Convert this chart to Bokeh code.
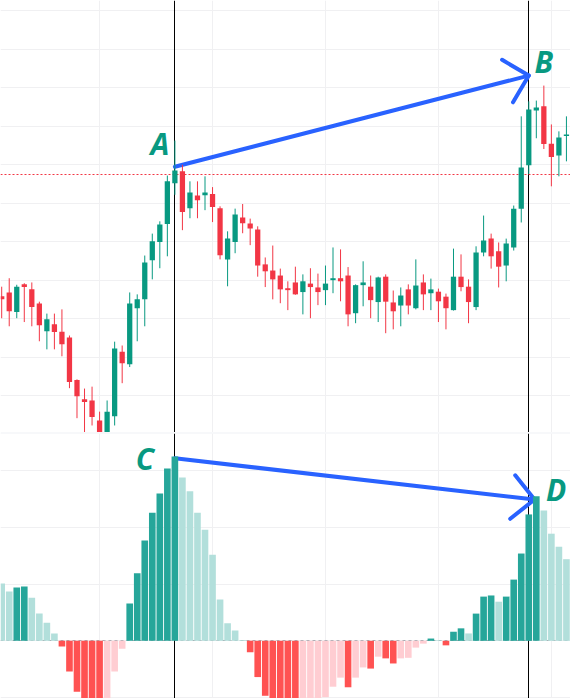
import math
from bokeh.plotting import figure
from bokeh.layouts import column
from bokeh.models import FixedTicker, Range1d, ColumnDataSource
from bokeh.core.properties import value
from bokeh.embed import file_html
from bokeh.resources import INLINE

# ---------------- data ----------------
opens = [38.58, 38.68, 38.17, 38.89, 38.76, 38.39, 37.67, 37.85, 37.66, 37.51,
         36.40, 35.90, 35.87, 35.35, 35.02, 35.46, 37.14, 36.81, 38.27, 38.50,
         39.52, 39.99, 40.46, 41.52, 41.83, 40.87, 41.20, 41.21, 41.24, 40.87,
         39.54, 39.99, 40.63, 40.47, 40.32, 39.41, 39.25, 39.12, 38.79, 38.94,
         38.69, 38.91, 38.81, 38.74, 39.00, 39.05, 39.12, 38.14, 38.87, 38.83,
         38.43, 39.09, 38.42, 38.34, 38.76, 38.27, 38.94, 38.66, 38.70, 38.57,
         38.22, 39.09, 38.83, 38.30, 39.72, 40.08, 39.75, 39.38, 39.85, 40.86,
         41.99, 43.41, 43.52, 42.55, 42.24, 42.75]
highs = [38.83, 39.05, 38.88, 38.92, 38.94, 38.44, 38.13, 38.13, 38.24, 37.56,
         36.42, 36.18, 36.23, 35.58, 35.87, 37.40, 37.30, 38.68, 38.63, 39.64,
         40.21, 40.53, 41.72, 42.63, 42.00, 41.57, 41.57, 41.70, 41.42, 40.92,
         40.27, 40.86, 40.98, 40.60, 40.40, 39.59, 39.90, 39.30, 38.97, 39.35,
         39.15, 39.31, 39.17, 39.38, 39.85, 39.80, 39.34, 38.89, 39.49, 39.12,
         39.09, 39.15, 38.73, 38.81, 38.89, 39.54, 39.15, 39.04, 38.78, 38.65,
         39.82, 39.67, 39.02, 39.88, 40.68, 40.21, 39.98, 40.08, 40.94, 43.26,
         43.65, 43.67, 44.06, 43.05, 42.87, 43.26]
lows = [38.01, 37.80, 38.01, 37.91, 37.80, 37.41, 37.20, 37.20, 37.02, 36.19,
        35.41, 35.05, 35.22, 34.88, 34.93, 35.22, 36.32, 36.74, 37.41, 37.80,
        39.02, 39.31, 39.62, 41.22, 40.30, 40.61, 40.61, 40.82, 40.51, 39.54,
        38.84, 39.70, 40.22, 39.91, 39.09, 38.82, 38.50, 38.40, 38.22, 38.62,
        38.11, 38.01, 38.35, 38.35, 38.66, 38.45, 37.80, 37.88, 38.32, 38.01,
        37.91, 37.62, 37.72, 37.80, 38.11, 38.24, 38.22, 38.22, 37.91, 37.72,
        38.21, 38.71, 37.88, 38.22, 39.62, 39.30, 38.81, 38.97, 39.77, 40.50,
        41.76, 42.69, 42.41, 41.44, 41.70, 42.09]
closes = [38.50, 38.19, 38.83, 38.82, 38.30, 37.83, 37.98, 37.65, 37.33, 36.35,
          35.98, 35.83, 35.44, 34.99, 35.58, 37.22, 36.84, 38.39, 38.50, 39.46,
          40.01, 40.45, 41.57, 41.85, 40.77, 41.28, 41.08, 41.28, 40.90, 39.65,
          40.08, 40.71, 40.48, 40.34, 39.38, 39.23, 39.02, 38.76, 38.74, 38.63,
          38.97, 38.82, 38.69, 38.91, 39.05, 38.97, 38.11, 38.87, 38.94, 38.48,
          39.07, 38.44, 38.19, 38.60, 38.34, 38.86, 38.63, 38.76, 38.45, 38.27,
          39.09, 38.82, 38.43, 39.72, 40.03, 39.62, 39.35, 39.95, 40.86, 41.93,
          43.44, 43.49, 42.54, 42.20, 42.71, 42.79]
hist = [0.101, 0.087, 0.094, 0.096, 0.076, 0.048, 0.032, 0.013, -0.010, -0.054,
        -0.090, -0.112, -0.125, -0.132, -0.108, -0.054, -0.014, 0.066, 0.119, 0.177,
        0.226, 0.260, 0.304, 0.325, 0.288, 0.264, 0.226, 0.196, 0.152, 0.073,
        0.031, 0.018, 0.0015, -0.020, -0.064, -0.097, -0.108, -0.118, -0.126, -0.131,
        -0.124, -0.115, -0.106, -0.0995, -0.081, -0.065, -0.082, -0.065, -0.047, -0.049,
        -0.028, -0.031, -0.040, -0.031, -0.030, -0.012, -0.005, 0.004, 0.001, -0.008,
        0.016, 0.022, 0.013, 0.048, 0.078, 0.080, 0.069, 0.078, 0.108, 0.154,
        0.223, 0.255, 0.230, 0.189, 0.166, 0.144]

price_ticks = [35, 36, 37, 38, 39, 40, 41, 42, 43, 44, 45, 46]
hist_ticks = [-0.1, 0.0, 0.1, 0.2, 0.3]
time_ticks = [13, 28, 43, 58, 73]
marked_bars = [23, 70]
last_price = 41.735

arrow_ab_x = [23.0, 70.0]
arrow_ab_y = [41.95, 44.32]
arrow_cd_x = [23.0, 70.76]
arrow_cd_y = [0.322, 0.2493]

top_labels = ["A", "B"]
top_label_x = [19.76, 70.77]
top_label_y = [42.544, 44.684]
bot_labels = ["C", "D"]
bot_label_x = [17.8, 72.3]
bot_label_y = [0.3217, 0.2676]

# ---------------- view ----------------
W = 570
H_TOP = 432
H_BOT = 266
X_VIEW = (-0.159, 75.54)
TOP_VIEW = (35.0375, 46.273)
BOT_VIEW = (-0.1018, 0.3658)

UP = "#089981"
DOWN = "#F23645"
GRID = "#f0f0f2"
BLUE = "#2962FF"

x_range = Range1d(*X_VIEW)


def make_fig(height, yview, border_top=0):
    p = figure(width=W, height=height, x_range=x_range, y_range=Range1d(*yview),
               output_backend="svg", toolbar_location=None,
               x_axis_location=None, y_axis_location=None,
               min_border=0, min_border_top=border_top,
               outline_line_color=None, background_fill_color="white",
               border_fill_color="#e0e3eb" if border_top else "white")
    p.xgrid.ticker = FixedTicker(ticks=time_ticks)
    p.xgrid.grid_line_color = GRID
    p.ygrid.grid_line_color = GRID
    p.vspan(x=marked_bars, line_color="black", line_width=1)
    return p


def head(xs, ys, sx, sy, arm=31.0, spread=45.0):
    dx = (xs[0] - xs[1]) * sx
    dy = (ys[0] - ys[1]) * sy
    n = math.hypot(dx, dy)
    ux, uy = dx / n, dy / n
    hx, hy = [], []
    for sgn in (1, -1):
        a = math.radians(spread) * sgn
        rx = ux * math.cos(a) - uy * math.sin(a)
        ry = ux * math.sin(a) + uy * math.cos(a)
        hx.append(xs[1] + rx * arm / sx)
        hy.append(ys[1] + ry * arm / sy)
    return [hx[0], xs[1], hx[1]], [hy[0], ys[1], hy[1]]


sx = W / (X_VIEW[1] - X_VIEW[0])
LABEL_STYLE = dict(text_font=value("Open Sans"), text_font_size="30px",
                   text_font_style="bold italic", text_color=UP,
                   text_align="left", text_baseline="alphabetic")

# ---------------- price pane ----------------
p1 = make_fig(H_TOP, TOP_VIEW)
p1.ygrid.ticker = FixedTicker(ticks=price_ticks)
p1.hspan(y=[last_price], line_color=DOWN, line_width=1, line_dash="2 2")

sy1 = H_TOP / (TOP_VIEW[1] - TOP_VIEW[0])
p1.line(arrow_ab_x, arrow_ab_y, line_color=BLUE, line_width=4, line_cap="round")
hx, hy = head(arrow_ab_x, arrow_ab_y, sx, sy1)
p1.line(hx, hy, line_color=BLUE, line_width=4, line_cap="round", line_join="round")

idx = list(range(len(opens)))
ccol = [UP if c >= o else DOWN for o, c in zip(opens, closes)]
src = ColumnDataSource(dict(
    x=idx, o=opens, h=highs, l=lows, c=closes, col=ccol,
    top=[max(o, c) for o, c in zip(opens, closes)],
    bot=[min(o, c) for o, c in zip(opens, closes)],
))
p1.segment(x0="x", y0="l", x1="x", y1="h", line_color="col", line_width=1, source=src)
p1.vbar(x="x", width=0.7, top="top", bottom="bot", fill_color="col", line_color=None, source=src)

p1.text(x=top_label_x, y=top_label_y, text=top_labels, **LABEL_STYLE)

# ---------------- histogram pane ----------------
p2 = make_fig(H_BOT, BOT_VIEW, border_top=1)
p2.ygrid.ticker = FixedTicker(ticks=hist_ticks)
p2.hspan(y=[0], line_color="#787B86", line_alpha=0.6, line_width=1, line_dash="3 3")

sy2 = (H_BOT - 1) / (BOT_VIEW[1] - BOT_VIEW[0])
p2.line(arrow_cd_x, arrow_cd_y, line_color=BLUE, line_width=4, line_cap="round")
hx2, hy2 = head(arrow_cd_x, arrow_cd_y, sx, sy2)
p2.line(hx2, hy2, line_color=BLUE, line_width=4, line_cap="round", line_join="round")

hcol = []
for i, v in enumerate(hist):
    prev = hist[i - 1] if i > 0 else v
    if v >= 0:
        hcol.append("#26A69A" if v > prev else "#B2DFDB")
    else:
        hcol.append("#FF5252" if v < prev else "#FFCDD2")
p2.vbar(x=idx, width=0.88, top=hist, bottom=0, fill_color=hcol, line_color=None)

p2.text(x=bot_label_x, y=bot_label_y, text=bot_labels, **LABEL_STYLE)

layout = column(p1, p2, spacing=0)
open("out.html", "w").write(file_html(layout, INLINE))
